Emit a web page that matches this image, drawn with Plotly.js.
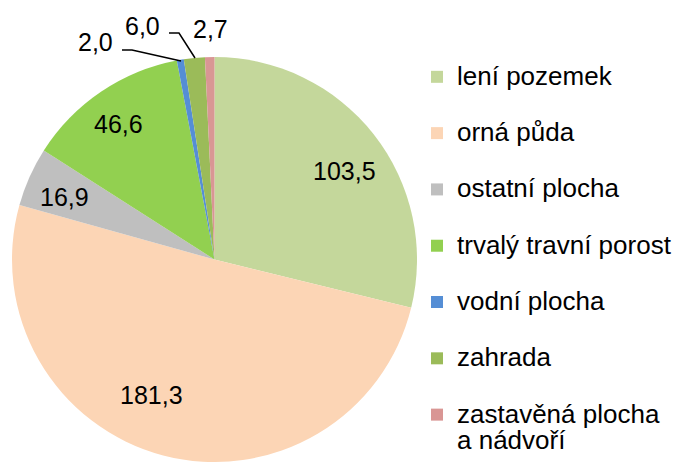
<!DOCTYPE html>
<html>
<head>
<meta charset="utf-8">
<script src="https://cdn.plot.ly/plotly-3.0.1.min.js"></script>
<style>
  html, body { margin: 0; padding: 0; background: #fff; }
  #chart { width: 678px; height: 462px; }
</style>
</head>
<body>
<div id="chart"></div>
<script>
// ---- data ----
const categories = ["lení pozemek", "orná půda", "ostatní plocha", "trvalý travní porost", "vodní plocha", "zahrada", "zastavěná plocha<br>a nádvoří"];
const values = [103.5, 181.3, 16.9, 46.6, 2.0, 6.0, 2.7];
const colors = ["#C4D79B", "#FCD5B5", "#BFBFBF", "#92D050", "#558ED5", "#9BBB59", "#D99694"];

// ---- layout constants (pixels) ----
const W = 678, H = 462;
const M = { l: 12, r: 0, t: 57, b: 0 };
const plotW = W - M.l - M.r, plotH = H - M.t - M.b;
const pieSize = 405;
// label centres (px) and leader lines (px)
const labelPos = [[344, 171], [151, 395], [64, 197], [118, 124], [96, 42], [142, 26], [210, 29]];
const leaders = [
  [[122, 50], [132, 50], [181, 61]],
  [[169, 33], [179, 33], [195, 58]]
];

const px2x = p => (p - M.l) / plotW;
const px2y = p => 1 - (p - M.t) / plotH;
const fmt = v => v.toFixed(1).replace(".", ",");

const big = s => '<span style="font-size:26px">' + s + '</span>';
const legendLabels = categories.map(c => {
  const parts = c.split("<br>");
  return big(parts[0]) + "<br>" + big(parts.length > 1 ? parts[1] : "&nbsp;");
});

const trace = {
  type: "pie",
  labels: legendLabels,
  values: values,
  sort: false,
  direction: "clockwise",
  rotation: 0,
  marker: { colors: colors, line: { width: 0 } },
  textinfo: "none",
  hoverinfo: "value",
  domain: { x: [0, pieSize / plotW], y: [0, 1] }
};

const annotations = values.map((v, i) => ({
  xref: "paper", yref: "paper",
  x: px2x(labelPos[i][0]), y: px2y(labelPos[i][1]),
  xanchor: "center", yanchor: "middle",
  text: fmt(v), showarrow: false,
  font: { family: "Arial, Liberation Sans, sans-serif", size: 25, color: "#000" }
}));

const shapes = leaders.map(pts => ({
  type: "path", xref: "paper", yref: "paper",
  path: pts.map((p, k) => (k ? "L" : "M") + px2x(p[0]) + "," + px2y(p[1])).join(" "),
  line: { color: "#000", width: 1.5 }
}));

const layout = {
  width: W, height: H,
  margin: { l: M.l, r: M.r, t: M.t, b: M.b, autoexpand: false },
  paper_bgcolor: "#fff",
  font: { family: "Arial, Liberation Sans, sans-serif", color: "#000" },
  showlegend: true,
  legend: {
    x: px2x(417), y: 1, xanchor: "left", yanchor: "top",
    valign: "top",
    font: { size: 20.5, color: "#000", family: "Arial, Liberation Sans, sans-serif" },
    bgcolor: "rgba(0,0,0,0)"
  },
  annotations: annotations,
  shapes: shapes
};

Plotly.newPlot("chart", [trace], layout, { displayModeBar: false, staticPlot: true });
</script>
</body>
</html>
